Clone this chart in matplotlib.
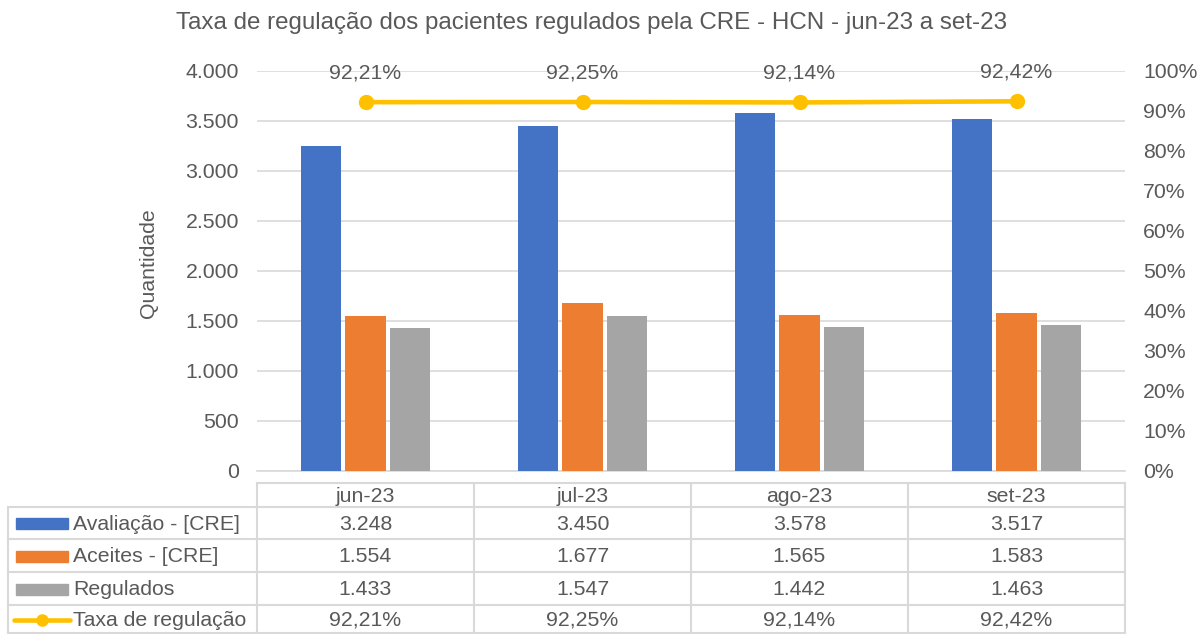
import matplotlib.pyplot as plt
import numpy as np
from matplotlib.ticker import FuncFormatter

plt.rcParams['font.family'] = ['Liberation Sans', 'DejaVu Sans']

# data
months = ['jun-23', 'jul-23', 'ago-23', 'set-23']
avaliacao = [3248, 3450, 3578, 3517]
aceites = [1554, 1677, 1565, 1583]
regulados = [1433, 1547, 1442, 1463]
taxa = [92.21, 92.25, 92.14, 92.42]

series_names = ['Avaliação - [CRE]', 'Aceites - [CRE]', 'Regulados', 'Taxa de regulação']
colors = ['#4472C4', '#ED7D31', '#A5A5A5', '#FFC000']
txt = '#595959'
grid = '#D9D9D9'
fs = 15.3

W, H = 1200, 634
fig = plt.figure(figsize=(W / 100, H / 100), dpi=100)

# plot area in pixels
left, right, top, bottom = 257, 1125, 71, 471
ax = fig.add_axes([left / W, 1 - bottom / H, (right - left) / W, (bottom - top) / H])

x = np.arange(len(months))
bw = 0.185
off = 0.205
ax.bar(x - off, avaliacao, bw, color=colors[0], zorder=3)
ax.bar(x, aceites, bw, color=colors[1], zorder=3)
ax.bar(x + off, regulados, bw, color=colors[2], zorder=3)
ax.set_xlim(-0.5, len(months) - 0.5)
ax.set_ylim(0, 4000)
ax.set_yticks(np.arange(0, 4001, 500))
ax.yaxis.set_major_formatter(FuncFormatter(lambda v, p: '{:,.0f}'.format(v).replace(',', '.')))
ax.grid(axis='y', color=grid, linewidth=1.2, zorder=0)
ax.set_xticks([])
for s in ['top', 'left', 'right']:
    ax.spines[s].set_visible(False)
ax.spines['bottom'].set_color(grid)
ax.spines['bottom'].set_linewidth(1.2)
ax.tick_params(axis='y', length=0, pad=13, labelsize=fs, labelcolor=txt)
ax.set_ylabel('Quantidade', fontsize=fs, color=txt)
ax.yaxis.set_label_coords(-0.114, 0.52)

ax2 = ax.twinx()
ax2.plot(x, taxa, color=colors[3], linewidth=3.3, marker='o', markersize=10, zorder=4)
ax2.set_ylim(0, 100)
ax2.set_yticks(np.arange(0, 101, 10))
ax2.yaxis.set_major_formatter(FuncFormatter(lambda v, p: '{:.0f}%'.format(v)))
ax2.tick_params(axis='y', length=0, pad=13, labelsize=fs, labelcolor=txt)
for s in ['top', 'left', 'right', 'bottom']:
    ax2.spines[s].set_visible(False)
for xi, t in zip(x, taxa):
    ax2.annotate('{:.2f}%'.format(t).replace('.', ','), (xi, t), xytext=(0, 21),
                 textcoords='offset points', ha='center', va='center', fontsize=fs, color=txt)

fig.text(591 / W, 1 - 23 / H, 'Taxa de regulação dos pacientes regulados pela CRE - HCN - jun-23 a set-23',
         ha='center', va='center', fontsize=17.4, color=txt)

# data table drawn in pixel coordinates
tb = fig.add_axes([0, 0, 1, 1])
tb.set_xlim(0, W)
tb.set_ylim(H, 0)
tb.axis('off')
tb.patch.set_alpha(0)

colw = (right - left) / len(months)
col_edges = [left + i * colw for i in range(len(months) + 1)]
row_edges = [483, 507, 539, 572, 605, 633]
lw = 1.5
tb.plot([left, right], [row_edges[0]] * 2, color=grid, lw=lw)
for y in row_edges[1:]:
    tb.plot([8, right], [y, y], color=grid, lw=lw)
tb.plot([8, 8], [row_edges[1], row_edges[-1]], color=grid, lw=lw)
for cx in col_edges:
    tb.plot([cx, cx], [row_edges[0], row_edges[-1]], color=grid, lw=lw)

for i, m in enumerate(months):
    cx = col_edges[i] + colw / 2
    tb.text(cx, (row_edges[0] + row_edges[1]) / 2 + 1, m, ha='center', va='center', fontsize=fs, color=txt)

rows = [
    ['{:,.0f}'.format(v).replace(',', '.') for v in avaliacao],
    ['{:,.0f}'.format(v).replace(',', '.') for v in aceites],
    ['{:,.0f}'.format(v).replace(',', '.') for v in regulados],
    ['{:.2f}%'.format(v).replace('.', ',') for v in taxa],
]
for r, vals in enumerate(rows):
    yc = (row_edges[r + 1] + row_edges[r + 2]) / 2 + 1
    for i, v in enumerate(vals):
        tb.text(col_edges[i] + colw / 2, yc, v, ha='center', va='center', fontsize=fs, color=txt)
    # legend key
    if r < 3:
        tb.add_patch(plt.Rectangle((16, yc - 6), 52, 11, color=colors[r]))
    else:
        tb.plot([14, 70], [yc, yc], color=colors[3], lw=3.3, solid_capstyle='round')
        tb.plot([42], [yc], marker='o', markersize=8, color=colors[3])
    tb.text(73, yc, series_names[r], ha='left', va='center', fontsize=fs, color=txt)

fig.savefig('out.png', dpi=100)
